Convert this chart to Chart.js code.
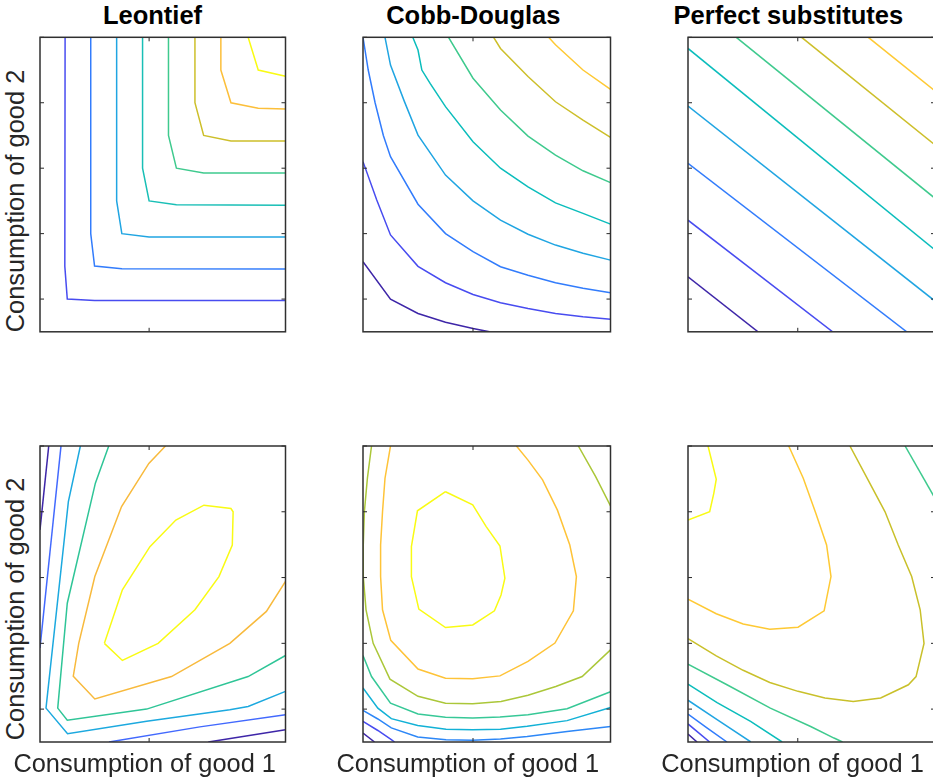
<!DOCTYPE html>
<html>
<head>
<meta charset="utf-8">
<script src="https://cdn.jsdelivr.net/npm/chart.js@4/dist/chart.umd.min.js"></script>
<style>
html,body{margin:0;padding:0;background:#fff;overflow:hidden;width:933px;height:783px;}
#root{position:relative;width:933px;height:783px;overflow:hidden;background:#fff;}
.panel{position:absolute;}
.title{position:absolute;font-family:"Liberation Sans",Arial,sans-serif;font-weight:bold;font-size:25.5px;line-height:1;white-space:nowrap;color:#000;transform:translateX(-50%);}
.xlab{position:absolute;font-family:"Liberation Sans",Arial,sans-serif;font-size:25.4px;line-height:1;white-space:nowrap;color:#262626;transform:translateX(-50%);}
.ylab{position:absolute;font-family:"Liberation Sans",Arial,sans-serif;font-size:25.4px;line-height:1;white-space:nowrap;color:#262626;transform:translate(-50%,-50%) rotate(-90deg);}
</style>
</head>
<body>
<div id="root"></div>
<script>
// ---- axes and text ----
const xRange = [1, 10];
const yRange = [1, 10];
const xTicks = [5, 10];
const yTicks = [2, 4, 6, 8, 10];
const titles = ["Leontief", "Cobb-Douglas", "Perfect substitutes"];
const xLabel = "Consumption of good 1";
const yLabel = "Consumption of good 2";

// ---- top row: indifference curves ----
const leontiefLines = [
  [[1.92,10],[1.91,3],[2.0,2.0],[3.0,1.96],[10,1.96]],
  [[2.86,10],[2.86,4],[3.0,3.01],[4.0,2.93],[10,2.92]],
  [[3.81,10],[3.81,5],[4.0,4.0],[5.0,3.9],[10,3.9]],
  [[4.76,10],[4.76,6],[5.0,5.0],[6.0,4.88],[10,4.87]],
  [[5.71,10],[5.71,7],[6.0,6.0],[7.0,5.85],[10,5.85]],
  [[6.68,10],[6.68,8],[7.0,7.0],[8.0,6.83],[10,6.83]],
  [[7.63,10],[7.63,9],[8.0,8.0],[9.0,7.83],[10,7.81]],
  [[8.63,10],[9.0,9.0],[10,8.81]]
];
const leontiefLevels = [0,1,2,3,4,5,6,7];

const cobbLines = [
  [[1,3.14],[2,2.0],[3,1.56],[4,1.29],[5,1.1],[5.6,1.0]],
  [[1,6.2],[1.5,5.03],[2,3.96],[3,3.0],[4,2.5],[5,2.14],[6,1.89],[7,1.71],[8,1.56],[9,1.46],[10,1.38]],
  [[1,10],[1.19,9],[1.44,8],[1.74,7],[2,6.35],[3,4.9],[4,4.0],[5,3.45],[6,2.99],[7,2.73],[8,2.5],[9,2.33],[10,2.19]],
  [[1.8,10],[2,9.15],[2.5,8.05],[3,7.01],[4,5.79],[5,5.0],[6,4.41],[7,3.98],[8,3.65],[9,3.4],[10,3.19]],
  [[2.81,10],[3,9.61],[3.14,9],[3.44,8.59],[4,7.88],[5,6.81],[6,6.0],[7,5.43],[8,4.94],[9,4.62],[10,4.29]],
  [[4.11,10],[5,8.75],[6,7.78],[7,6.98],[8,6.4],[9,5.92],[10,5.56]],
  [[5.75,10],[6,9.66],[7,8.8],[8,8.03],[9,7.47],[10,6.94]],
  [[7.75,10],[8,9.77],[9,9.0],[10,8.41]]
];
const cobbLevels = [0,1,2,3,4,5,6,7];

const substLines = [
  [[1,2.68],[3.55,1]],
  [[1,4.41],[6.27,1]],
  [[1,6.15],[8.97,1]],
  [[1,7.9],[10,1.94]],
  [[1,9.66],[10,3.5]],
  [[2.76,10],[10,5.08]],
  [[5.14,10],[10,6.71]],
  [[7.57,10],[10,8.36]]
];
const substLevels = [0,1,2,3,4,5,6,7];

// ---- bottom row: non-monotone utilities ----
const leontief2Lines = [
  [[1.32,10],[1,7.45]],
  [[7.17,1],[10,1.37]],
  [[1.77,10],[1,3.86]],
  [[3.53,1],[6.86,1.46],[10,1.83]],
  [[2.48,10],[2.04,8.31],[1.22,2.03],[2.01,1.25],[4.91,1.63],[7.96,1.98],[8.63,2.08],[10,2.54]],
  [[3.52,10],[3.03,8.87],[2.0,5.22],[1.65,2.03],[2.0,1.66],[4.91,2.0],[8.63,2.99],[10,3.63]],
  [[5.6,10],[4.99,9.47],[3.99,8.16],[3.01,6.03],[2.42,4.0],[2.22,3.0],[3.01,2.31],[5.82,2.99],[7.96,4.0],[9.3,4.97],[10,5.88]],
  [[3.36,4.0],[4.02,3.48],[5.33,4.0],[6.68,5.02],[7.56,6.03],[8.05,6.99],[8.08,8.0],[8.0,8.1],[7.01,8.2],[5.98,7.75],[5.03,6.94],[4.02,5.63],[3.36,4.0]]
];
const leontief2Levels = [0,0,1,1,2,3,4,5];

const cobb2Lines = [
  [[1,1.27],[1.42,1.0]],
  [[1,1.63],[1.54,1.35],[2.03,1.07],[2.15,1.0]],
  [[1,1.96],[1.54,1.7],[2.03,1.43],[2.99,1.15],[4.02,1.07],[4.98,1.05],[6.0,1.09],[6.97,1.17],[8.42,1.32],[10,1.47]],
  [[1,2.64],[1.54,2.03],[2.03,1.71],[2.99,1.5],[4.02,1.39],[4.98,1.37],[6.0,1.39],[6.97,1.48],[8.42,1.65],[10,2.05]],
  [[1,3.63],[1.31,2.99],[2.0,2.18],[3.0,1.85],[4.0,1.75],[4.99,1.73],[5.98,1.76],[7.0,1.83],[8.42,2.01],[10,2.53]],
  [[1.31,10],[1.16,9.02],[1.05,8.0],[1.01,6.99],[1.01,6.03],[1.11,5.02],[1.37,4.0],[1.98,2.91],[3.0,2.39],[4.0,2.18],[4.99,2.16],[6.02,2.23],[7.0,2.42],[8.01,2.69],[8.97,2.99],[10,3.8]],
  [[8.83,10],[9.46,9.07],[10,8.18]],
  [[2.0,10],[1.8,9.02],[1.71,8.0],[1.64,6.99],[1.64,6.03],[1.71,5.02],[2.01,4.09],[3.0,3.22],[4.0,2.94],[4.99,2.92],[5.98,3.01],[7.0,3.45],[7.98,4.01],[8.65,4.99],[8.76,6.03],[8.52,6.99],[8.07,8.05],[7.53,8.97],[7.0,9.57],[6.58,10]],
  [[4.0,8.61],[4.99,8.21],[5.48,7.55],[5.98,6.96],[6.16,5.98],[6.02,5.47],[5.78,4.99],[4.99,4.56],[4.0,4.48],[3.03,5.04],[2.76,6.03],[2.76,6.94],[2.98,8.03],[4.0,8.61]]
];
const cobb2Levels = [0,1,2,3,4,5,5,6,7];

const subst2Lines = [
  [[1,1.24],[1.33,1]],
  [[1,1.55],[1.79,1]],
  [[1,1.85],[1.69,1.43],[2.42,1]],
  [[1,2.27],[2.06,1.68],[3.29,1]],
  [[1,2.76],[2.06,2.2],[3.28,1.63],[4.43,1]],
  [[1,3.37],[2.42,2.74],[4.0,2.03],[5.47,1.47],[6.32,1.12],[6.63,1.0]],
  [[8.91,10],[10,8.41]],
  [[6.9,10],[7.56,8.97],[8.18,8.0],[8.66,6.99],[9.15,6.03],[9.46,5.02],[9.6,4.0],[9.31,2.99],[9.03,2.74],[8.02,2.34],[7.02,2.23],[5.99,2.34],[5.01,2.54],[3.98,2.81],[3.01,3.18],[2.03,3.62],[1,4.14]],
  [[4.67,10],[5.2,9.02],[5.66,7.95],[6.05,6.99],[6.21,6.03],[5.96,4.99],[5.01,4.49],[3.98,4.43],[3.01,4.59],[2.03,4.9],[1,5.34]],
  [[1.73,10],[2.03,8.99],[1.94,8.56],[1.79,8.0],[1,7.75]]
];
const subst2Levels = [0,1,2,3,4,5,5,6,7,8];

// ---- styles (parula-like line colours per level) ----
const leontiefColors = ['#484cf0','#327cfc','#20a5e2','#19bfb6','#3fca8e','#cdbf2a','#fcbf3a','#f9fb14'];
const cobbColors     = ['#3e26a8','#484cf0','#327cfc','#20a5e2','#0bbdbc','#3fca8e','#cdbf2a','#fec934'];
const substColors    = cobbColors;
const leontief2Colors= ['#3e26a8','#4269fe','#1ca9df','#2fc597','#f8ba3d','#f9fb14'];
const cobb2Colors    = ['#3e26a8','#484cf0','#2d87f7','#12b1d6','#37c897','#abc739','#fec338','#f9fb14'];
const subst2Colors   = ['#3e26a8','#484cf0','#327cfc','#20a5e2','#0bbdbc','#3fca8e','#c9c02a','#fec934','#f9fb14'];

// ---- layout (pixel boxes of the six axes) ----
const colBoxes = [{L:40,R:285.5},{L:363,R:610.5},{L:688,R:935}];
const rowBoxes = [{T:37.3,B:331.8},{T:446,B:742}];
const titleCenters = [152.5, 473.3, 788.3];
const titleTop = 3.0;
const xLabelCenters = [144.7, 467.8, 792.5];
const xLabelTop = 750.8;
const yLabelX = 16.1;
const yLabelCenters = [200.8, 609.2];

const panels = [
  {lines: leontiefLines,  levels: leontiefLevels,  colors: leontiefColors,  col:0, row:0},
  {lines: cobbLines,      levels: cobbLevels,      colors: cobbColors,      col:1, row:0},
  {lines: substLines,     levels: substLevels,     colors: substColors,     col:2, row:0},
  {lines: leontief2Lines, levels: leontief2Levels, colors: leontief2Colors, col:0, row:1},
  {lines: cobb2Lines,     levels: cobb2Levels,     colors: cobb2Colors,     col:1, row:1},
  {lines: subst2Lines,    levels: subst2Levels,    colors: subst2Colors,    col:2, row:1}
];

const framePlugin = {
  id: 'matlabFrame',
  afterDatasetsDraw(chart) {
    const {ctx, chartArea: a} = chart;
    const xs = chart.scales.x, ys = chart.scales.y;
    const tl = 4;
    ctx.save();
    ctx.strokeStyle = '#262626';
    ctx.lineWidth = 1;
    ctx.beginPath();
    for (const v of xTicks) {
      const px = xs.getPixelForValue(v);
      ctx.moveTo(px, a.bottom); ctx.lineTo(px, a.bottom - tl);
      ctx.moveTo(px, a.top);    ctx.lineTo(px, a.top + tl);
    }
    for (const v of yTicks) {
      const py = ys.getPixelForValue(v);
      ctx.moveTo(a.left, py);  ctx.lineTo(a.left + tl, py);
      ctx.moveTo(a.right, py); ctx.lineTo(a.right - tl, py);
    }
    ctx.stroke();
    ctx.strokeStyle = '#303030';
    ctx.lineWidth = 1.5;
    ctx.strokeRect(a.left, a.top, a.right - a.left, a.bottom - a.top);
    ctx.restore();
  }
};

const root = document.getElementById('root');
const M = 8;

panels.forEach(p => {
  const cb = colBoxes[p.col], rb = rowBoxes[p.row];
  const left = Math.floor(cb.L) - M, top = Math.floor(rb.T) - M;
  const width = Math.ceil(cb.R) + M - left, height = Math.ceil(rb.B) + M - top;
  const div = document.createElement('div');
  div.className = 'panel';
  div.style.left = left + 'px'; div.style.top = top + 'px';
  div.style.width = width + 'px'; div.style.height = height + 'px';
  const canvas = document.createElement('canvas');
  canvas.width = width; canvas.height = height;
  canvas.style.width = width + 'px'; canvas.style.height = height + 'px';
  div.appendChild(canvas);
  root.appendChild(div);

  const datasets = p.lines.map((pts, i) => ({
    data: pts.map(q => ({x: q[0], y: q[1]})),
    showLine: true,
    borderColor: p.colors[p.levels[i]],
    borderWidth: 1.5,
    pointRadius: 0,
    pointHoverRadius: 0,
    fill: false,
    tension: 0
  }));

  new Chart(canvas, {
    type: 'scatter',
    data: {datasets},
    options: {
      responsive: false,
      animation: false,
      events: [],
      layout: {padding: {
        left: cb.L - left, right: (left + width) - cb.R,
        top: rb.T - top, bottom: (top + height) - rb.B
      }},
      plugins: {legend: {display: false}, tooltip: {enabled: false}, title: {display: false}},
      scales: {
        x: {type: 'linear', min: xRange[0], max: xRange[1], display: false},
        y: {type: 'linear', min: yRange[0], max: yRange[1], display: false}
      }
    },
    plugins: [framePlugin]
  });
});

titles.forEach((t, i) => {
  const d = document.createElement('div');
  d.className = 'title'; d.textContent = t;
  d.style.left = titleCenters[i] + 'px'; d.style.top = titleTop + 'px';
  root.appendChild(d);
});
xLabelCenters.forEach(cx => {
  const d = document.createElement('div');
  d.className = 'xlab'; d.textContent = xLabel;
  d.style.left = cx + 'px'; d.style.top = xLabelTop + 'px';
  root.appendChild(d);
});
yLabelCenters.forEach(cy => {
  const d = document.createElement('div');
  d.className = 'ylab'; d.textContent = yLabel;
  d.style.left = yLabelX + 'px'; d.style.top = cy + 'px';
  root.appendChild(d);
});
</script>
</body>
</html>
